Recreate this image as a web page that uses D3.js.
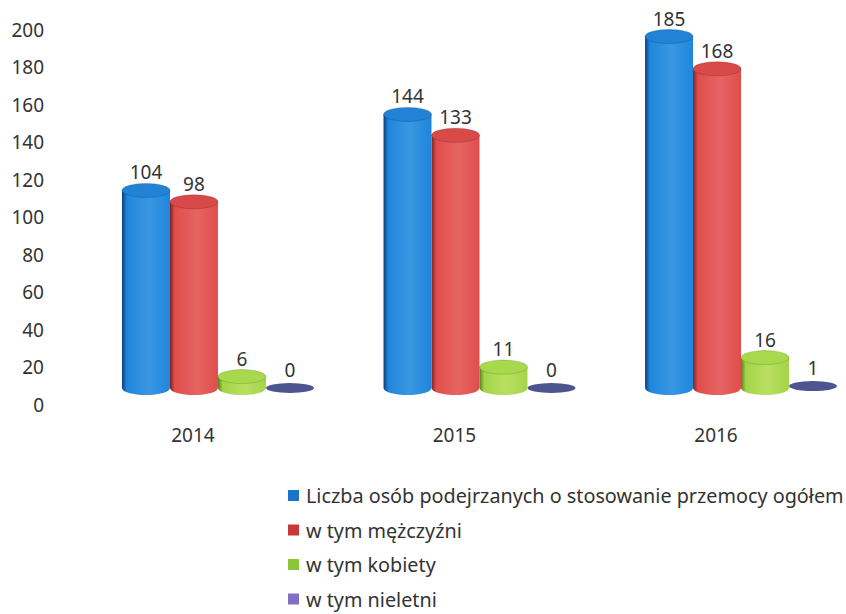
<!DOCTYPE html>
<html>
<head>
<meta charset="utf-8">
<script src="https://cdn.jsdelivr.net/npm/d3@7"></script>
<style>
  body { margin: 0; background: #fff; }
  text { font-family: "Noto Sans", sans-serif; fill: #333; }
</style>
</head>
<body>
<svg></svg>
<script>
const years = ["2014", "2015", "2016"];
const series = [
  "Liczba osób podejrzanych o stosowanie przemocy ogółem",
  "w tym mężczyźni",
  "w tym kobiety",
  "w tym nieletni"
];
const ogolem = [104, 144, 185];
const mezczyzni = [98, 133, 168];
const kobiety = [6, 11, 16];
const nieletni = [0, 0, 1];
const yTicks = [0, 20, 40, 60, 80, 100, 120, 140, 160, 180, 200];

const values = [ogolem, mezczyzni, kobiety, nieletni];
const colors = [
  { dark: "#0b3f75", mid: "#1f86dc", light: "#3a97e2", top: "#2283d6", legend: "#1a74c9" },
  { dark: "#7a2222", mid: "#e04e4c", light: "#e56462", top: "#d84a48", legend: "#c8383b" },
  { dark: "#55801a", mid: "#a4d44a", light: "#b8e060", top: "#a8d84c", legend: "#8cc43c" },
  { dark: "#2f3468", mid: "#5a62a8", light: "#7076bb", top: "#4d5590", legend: "#8070c4" }
];

const svg = d3.select("svg").attr("width", 846).attr("height", 614);

// axis labels and the 3D floor don't line up exactly in the original, so two scales
const yAxisScale = d3.scaleLinear().domain([0, 200]).range([405, 30]);
const yBar = d3.scaleLinear().domain([0, 200]).range([388, 8]);

const x0 = d3.scaleBand().domain(years).range([122, 837]).paddingInner(0.266).paddingOuter(0);
const x1 = d3.scaleBand().domain(series).range([0, x0.bandwidth()]);

const defs = svg.append("defs");
colors.forEach((c, j) => {
  const g = defs.append("linearGradient").attr("id", "cyl" + j)
    .attr("x1", "0%").attr("x2", "100%").attr("y1", "0%").attr("y2", "0%");
  g.append("stop").attr("offset", "0%").attr("stop-color", c.dark);
  g.append("stop").attr("offset", "10%").attr("stop-color", c.mid);
  g.append("stop").attr("offset", "55%").attr("stop-color", c.light);
  g.append("stop").attr("offset", "100%").attr("stop-color", c.mid);
});

const yAxis = d3.axisLeft(yAxisScale).tickValues(yTicks).tickSize(0).tickPadding(0);
svg.append("g")
  .attr("transform", "translate(44,0)")
  .call(yAxis)
  .call(g => g.select(".domain").remove())
  .selectAll("text")
  .style("font-family", '"Noto Sans", sans-serif')
  .style("font-size", "19px")
  .attr("fill", "#383838");

const rx = x1.bandwidth() / 2;
const ry = 7;
const chart = svg.append("g");

years.forEach((yr, i) => {
  for (let j = series.length - 1; j >= 0; j--) {
    const v = values[j][i];
    const cx = x0(yr) + x1(series[j]) + rx;
    const top = yBar(v);
    const base = yBar(0);
    const c = colors[j];
    if (v > 1) {
      chart.append("path")
        .attr("d", `M${cx - rx},${top} L${cx - rx},${base} A${rx},${ry} 0 0 0 ${cx + rx},${base} L${cx + rx},${top} Z`)
        .attr("fill", `url(#cyl${j})`);
      chart.append("ellipse")
        .attr("cx", cx).attr("cy", top).attr("rx", rx).attr("ry", ry)
        .attr("fill", c.top).attr("stroke", c.dark).attr("stroke-width", 0.6).attr("stroke-opacity", 0.5);
    } else {
      chart.append("ellipse")
        .attr("cx", cx).attr("cy", top).attr("rx", rx).attr("ry", 5)
        .attr("fill", c.top);
    }
    chart.append("text")
      .attr("x", cx).attr("y", top - 11)
      .attr("text-anchor", "middle")
      .style("font-size", "19px")
      .attr("fill", "#222")
      .text(v);
  }
  svg.append("text")
    .attr("x", x0(yr) + x0.bandwidth() / 2 - 25)
    .attr("y", 442)
    .attr("text-anchor", "middle")
    .style("font-size", "19px")
    .text(yr);
});

const legend = svg.append("g");
series.forEach((s, j) => {
  const cy = 496 + j * 34.5;
  legend.append("rect")
    .attr("x", 288).attr("y", cy - 6).attr("width", 11).attr("height", 11)
    .attr("fill", colors[j].legend);
  legend.append("text")
    .attr("x", 306).attr("y", cy + 7)
    .style("font-size", "19.8px")
    .text(s);
});
</script>
</body>
</html>
